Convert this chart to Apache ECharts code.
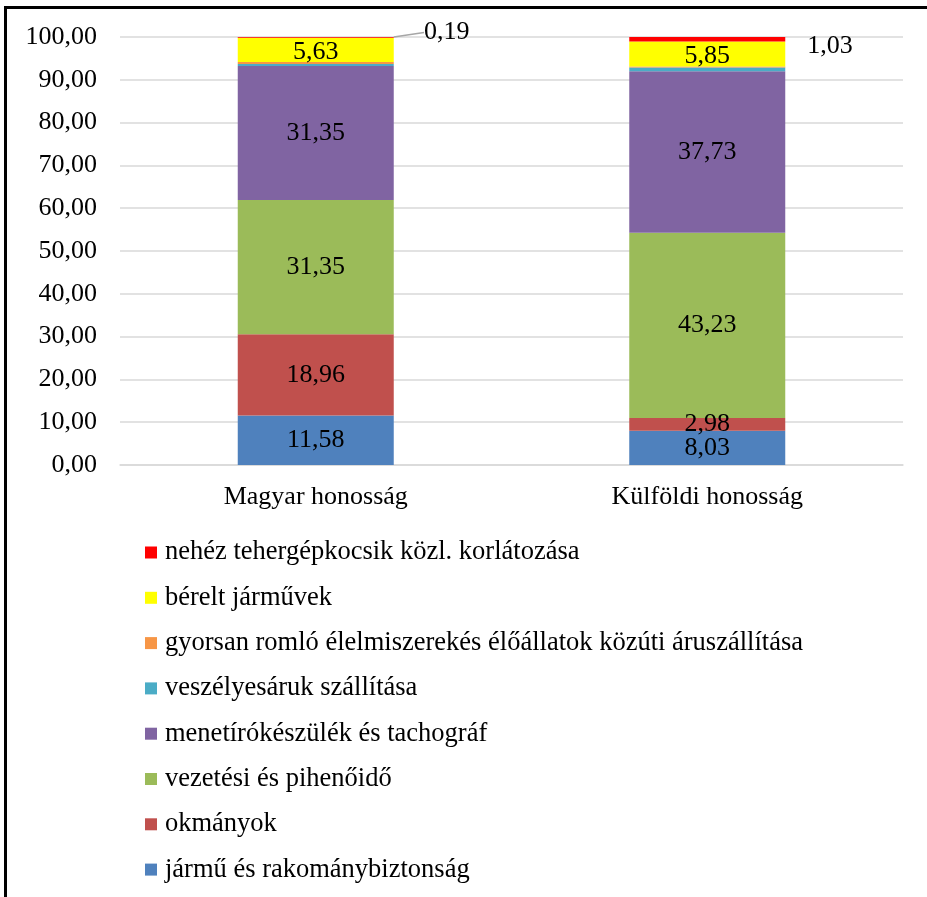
<!DOCTYPE html>
<html>
<head>
<meta charset="utf-8">
<script src="https://cdn.jsdelivr.net/npm/echarts@6/dist/echarts.min.js"></script>
<style>
  html, body { margin: 0; padding: 0; background: #fff; }
  #chart { width: 927px; height: 897px; }
  .frame {
    position: absolute;
    left: 4px;
    top: 6px;
    width: 930px;
    height: 900px;
    border-top: 3px solid #000;
    border-left: 3px solid #000;
    pointer-events: none;
  }
</style>
</head>
<body>
<div id="chart"></div>
<div class="frame"></div>
<script>
const categories = ['Magyar honosság', 'Külföldi honosság']
const seriesNames = [
  'jármű és rakománybiztonság',
  'okmányok',
  'vezetési és pihenőidő',
  'menetírókészülék és tachográf',
  'veszélyesáruk szállítása',
  'gyorsan romló élelmiszerekés élőállatok közúti áruszállítása',
  'bérelt járművek',
  'nehéz tehergépkocsik közl. korlátozása'
]
const jarmu = [11.58, 8.03]
const okmanyok = [18.96, 2.98]
const vezetesi = [31.35, 43.23]
const menetiro = [31.35, 37.73]
const veszelyes = [0.44, 0.9]
const gyorsan = [0.5, 0.25]
const berelt = [5.63, 5.85]
const nehez = [0.19, 1.03]
const colors = ['#4f81bd', '#c0504d', '#9bbb59', '#8064a2', '#4bacc6', '#f79646', '#ffff00', '#ff0000']
const yTicks = [0, 10, 20, 30, 40, 50, 60, 70, 80, 90, 100]

const font = '"Liberation Serif", "Times New Roman", serif'
const fmt = v => Number(v).toFixed(2).replace('.', ',')

const chart = echarts.init(document.getElementById('chart'))

function barSeries(name, data, color, showLabel) {
  return {
    name: name,
    type: 'bar',
    stack: 'total',
    barWidth: 156,
    data: data,
    itemStyle: { color: color },
    label: {
      show: showLabel,
      position: 'inside',
      color: '#000',
      fontFamily: font,
      fontSize: 26,
      formatter: p => fmt(p.value)
    }
  }
}

const series = [
  barSeries(seriesNames[0], jarmu, colors[0], true),
  barSeries(seriesNames[1], okmanyok, colors[1], true),
  barSeries(seriesNames[2], vezetesi, colors[2], true),
  barSeries(seriesNames[3], menetiro, colors[3], true),
  barSeries(seriesNames[4], veszelyes, colors[4], false),
  barSeries(seriesNames[5], gyorsan, colors[5], false),
  barSeries(seriesNames[6], berelt, colors[6], true),
  barSeries(seriesNames[7], nehez.map((v, i) => ({
    value: v,
    label: i === 0 ? { position: 'inside' } : { position: 'right', distance: 22 },
    labelLine: { show: i === 0, lineStyle: { color: '#a6a6a6', width: 1.5 } }
  })), colors[7], true)
]
series[6].labelLayout = function () {
  return { dy: 2 }
}
series[7].labelLayout = function (p) {
  if (p.dataIndex === 0) return { dx: 131, dy: -5 }
  return { dy: 7 }
}

chart.setOption({
  animation: false,
  backgroundColor: '#fff',
  textStyle: { fontFamily: font },
  grid: { left: 120, right: 24, top: 37, bottom: 432 },
  legend: {
    orient: 'vertical',
    left: 140,
    top: 534,
    itemWidth: 12,
    itemHeight: 12,
    itemGap: 18.3,
    icon: 'rect',
    textStyle: { fontFamily: font, fontSize: 26.5, color: '#000', padding: [0, 0, 0, 3] },
    data: seriesNames.slice().reverse()
  },
  xAxis: {
    type: 'category',
    data: categories,
    axisLine: { lineStyle: { color: '#d9d9d9', width: 1.5 } },
    axisTick: { show: false },
    axisLabel: { color: '#000', fontFamily: font, fontSize: 26, margin: 19 }
  },
  yAxis: {
    type: 'value',
    min: yTicks[0],
    max: yTicks[yTicks.length - 1],
    interval: 10,
    axisLine: { show: false },
    axisTick: { show: false },
    axisLabel: { color: '#000', fontFamily: font, fontSize: 26, margin: 23, formatter: v => fmt(v) },
    splitLine: { lineStyle: { color: '#d9d9d9', width: 1.5 } }
  },
  series: series
})
</script>
</body>
</html>
